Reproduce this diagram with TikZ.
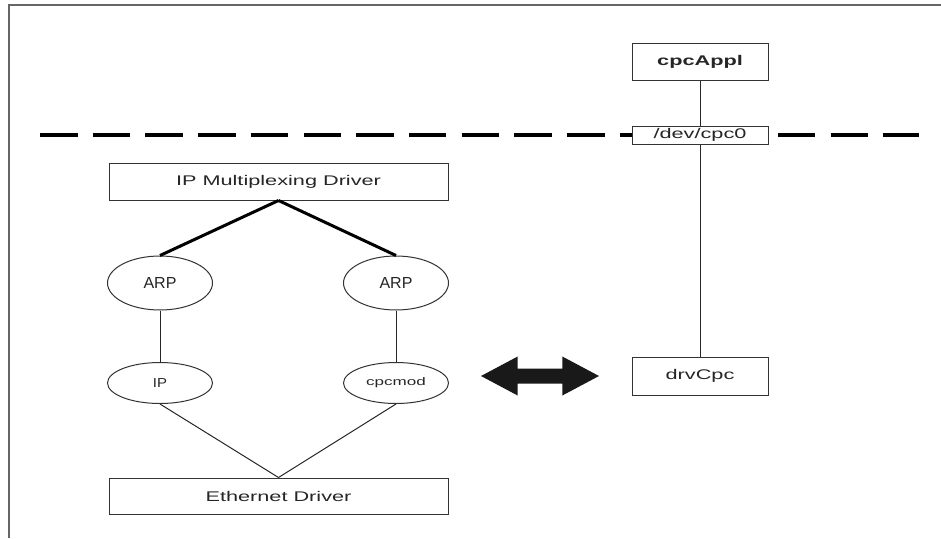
\documentclass[tikz,border=0pt]{standalone}
\usepackage{fontspec}
\setmainfont{Liberation Sans}
\newfontfamily\widesf[FakeStretch=1.55]{Liberation Sans}
\newfontfamily\midsf[FakeStretch=1.15]{Liberation Sans}
\usetikzlibrary{shapes,arrows}

\begin{document}
\begin{tikzpicture}[x=1pt,y=-1pt,node distance=100pt,line width=1pt]
\tikzstyle{every node}=[inner sep=0pt,text=black!85]
\tikzstyle{layer}=[draw=black!80,fill=white,minimum width=339pt,minimum height=37pt,font=\widesf\fontsize{14}{16}\selectfont]
\tikzstyle{cpcbox}=[layer,minimum width=136pt]
\tikzstyle{module}=[ellipse,draw=black!80,fill=white,minimum width=105pt]
\tikzstyle{thinlink}=[draw=black!85,line width=1pt]
\tikzstyle{thicklink}=[draw=black,line width=3pt]
\useasboundingbox (0,0) rectangle (941,538);
% page frame
\draw[black!60,line width=2pt] (8,5) -- (941,5);
\draw[black!60,line width=2pt] (9,5) -- (9,538);
% user/kernel boundary
\draw[line width=4pt,dash pattern=on 37.5pt off 15.2pt] (40,135) -- (919,135);

\node[cpcbox,font=\widesf\bfseries\fontsize{14}{16}\selectfont] (appl) at (700,61.5) {cpcAppl};
\node[cpcbox,minimum height=18pt] (dev) at (700,135) {/dev/cpc0};
\node[cpcbox,minimum height=38pt] (drv) at (700,376) {drvCpc};

\node[layer] (mux) at (278.5,181.5) {IP Multiplexing Driver};
\node[layer,minimum height=36pt] (eth) at (278.5,496) {Ethernet Driver};

\node[module,minimum height=54pt,font=\fontsize{16}{18}\selectfont] (arpL) at (160,283) {ARP};
\node[module,minimum height=54pt,font=\fontsize{16}{18}\selectfont] (arpR) at (396,283) {ARP};
\node[module,minimum height=41pt,font=\midsf\fontsize{13}{15}\selectfont][below of=arpL] (ip) {IP};
\node[module,minimum height=41pt,font=\widesf\fontsize{11}{13}\selectfont][below of=arpR] (cpcmod) {cpcmod};

\node[double arrow,fill=black!90,minimum height=118pt,minimum width=38pt,inner sep=7pt,
      double arrow head extend=12pt,double arrow tip angle=56] (swap) at (540,376) {};

\path[thinlink] (appl)edge(dev)
                (dev)edge(drv)
                (arpL)edge(ip)
                (arpR)edge(cpcmod)
                (ip.south)edge(eth.north)
                (cpcmod.south)edge(eth.north);
\path[thicklink] (mux.south)edge(arpL.north)
                 (mux.south)edge(arpR.north);
\end{tikzpicture}
\end{document}
